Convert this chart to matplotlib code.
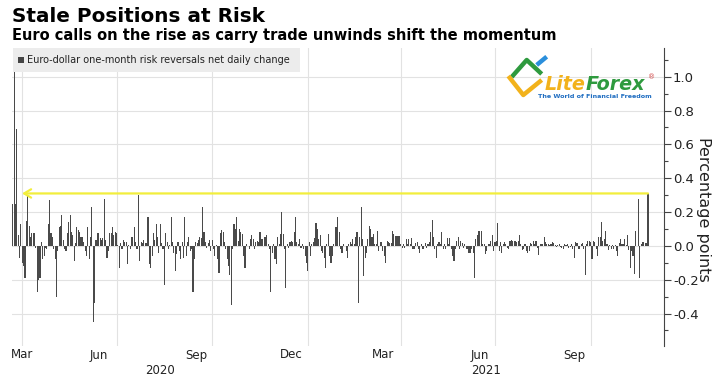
import matplotlib
matplotlib.use("Agg")
import matplotlib.pyplot as plt
from matplotlib.patches import Rectangle
import numpy as np

# daily change of EUR/USD 1M risk reversals (left to right)
chg_part1 = [0.25, 1.03, 0.25, 0.69, 0.065, -0.07, 0.13, -0.10, -0.12, -0.19, 0.15, 0.30, 0.12, 0.055,
             0.075, 0.075, 0.075, -0.01, -0.27, -0.20, -0.19, 0.025, -0.08, -0.06, -0.01, -0.02, 0.13,
             0.27, 0.075, 0.055, -0.02, -0.08, -0.30, -0.03, 0.11, 0.12, 0.18, 0.035, -0.02, -0.03,
             0.075, 0.14, 0.18, 0.085, 0.065, -0.09, 0.015, 0.11, 0.095, 0.085, 0.055, 0.055, 0.025,
             -0.03, -0.06, 0.11, -0.08, 0.055, 0.23, -0.45, -0.34, 0.035, 0.075, 0.075, 0.045, 0.035,
             0.045, 0.28, 0.035, -0.07, -0.03, 0.075, 0.075, 0.11, 0.065, 0.085, 0.075, 0.005, -0.13,
             0.015, -0.02, 0.035, 0.025, 0.025, -0.11, 0.005, -0.02, 0.055, 0.055, 0.11, 0.025, -0.02,
             0.30, -0.09, 0.025, 0.015, 0.035, 0.015, 0.015, 0.17, -0.11, -0.13, -0.06, 0.075, 0.035,
             0.13, 0.055, -0.04, 0.13, 0.015, -0.02, -0.23, 0.075, 0.025, -0.02, 0.005, 0.17, 0.025,
             -0.04, -0.15, -0.05, 0.025, -0.03, -0.08, 0.025, -0.07, 0.17, -0.06, 0.025, 0.055, -0.03,
             -0.02, -0.27, -0.08, 0.025, 0.015, 0.035, 0.055, 0.045, 0.23, 0.085, 0.025, -0.01, 0.015,
             0.035, -0.03, 0.035, -0.02, -0.06, 0.005, -0.08, -0.16, 0.075, 0.095, 0.085, 0.025, -0.02,
             -0.08, -0.12, -0.17, -0.35]
chg_part2 = [-0.02, 0.13, 0.10, 0.17, 0.03, 0.10, 0.08, 0.07, -0.06, -0.13, 0.01, 0.0, -0.02, 0.04,
             0.065, 0.04, -0.02, 0.02, 0.03, 0.02, 0.08, 0.04, 0.04, 0.05, 0.055, 0.065, 0.01, -0.02,
             -0.27, -0.04, 0.01, -0.08, -0.11, 0.05, 0.01, 0.07, 0.20, 0.07, -0.02, -0.25, 0.01, -0.01,
             0.02, 0.03, 0.02, 0.08, 0.17, 0.02, 0.01, 0.04, -0.01, 0.01, -0.02, -0.06, -0.10, -0.15,
             0.02, -0.06, 0.01, 0.025, 0.045, 0.135, 0.10, 0.04, 0.065, -0.03, -0.04, -0.07, -0.13,
             0.01, 0.07, -0.06, -0.10, -0.06, 0.01, 0.11, 0.11, 0.17, 0.08, -0.02, -0.04, 0.01, 0.0,
             -0.03, -0.07, 0.01, 0.02, 0.01, 0.04, 0.01, 0.05, 0.085, -0.34, 0.05, 0.23, 0.04, -0.18,
             -0.07, -0.04, 0.04, 0.12, 0.10, 0.05, 0.07, 0.01, 0.01, 0.09, -0.03, 0.025, 0.02, -0.03,
             -0.06, -0.10, 0.03, 0.025, 0.015, 0.015, 0.09, 0.07, 0.06, 0.06, 0.06, 0.06, 0.01, -0.01,
             0.01, -0.015, 0.04, 0.01, 0.04, 0.01, 0.045, -0.02, -0.02, 0.015, 0.02, -0.02, -0.04, 0.01,
             -0.02, -0.02, 0.015, -0.01, 0.01, 0.02, 0.085, 0.155, 0.05, -0.02, -0.07, 0.01, 0.02, 0.01,
             0.085, -0.02, 0.01, -0.02, 0.045, 0.01, 0.045, -0.02, -0.06, -0.09, -0.02, 0.03, 0.055,
             -0.02, 0.03, 0.015, -0.01, 0.01, -0.02, -0.02, -0.04, -0.04, -0.02, -0.04, -0.19]
chg_part3 = [0.04, 0.065, 0.09, 0.09, 0.09, 0.01, 0.01, -0.05, -0.03, 0.01, 0.01, 0.03, 0.065, -0.03,
             0.02, 0.03, 0.135, -0.03, 0.02, -0.045, 0.01, 0.02, 0.01, -0.01, -0.02, 0.03, 0.035, 0.03,
             0.03, 0.03, 0.025, 0.03, 0.065, 0.01, -0.025, -0.02, 0.01, -0.03, -0.045, -0.03, 0.015,
             0.01, 0.03, 0.01, 0.03, -0.01, -0.055, 0.01, 0.01, 0.01, 0.05, 0.02, 0.01, 0.01, 0.005,
             0.01, 0.02, 0.015, 0.005, -0.005, 0.005, 0.01, -0.005, -0.01, -0.02, 0.01, 0.005, 0.01,
             -0.01, -0.005, 0.01, -0.02, -0.07, 0.02, 0.015, -0.02, -0.02, 0.01, 0.015, -0.02, -0.17,
             0.01, 0.03, 0.03, 0.02, -0.08, 0.03, 0.02, -0.02, -0.06, 0.05, 0.05, 0.14, 0.03, 0.04,
             0.09, 0.01, -0.025, 0.005, -0.02, 0.005, -0.02, 0.005, -0.03, -0.06, 0.015, 0.04, 0.01,
             0.01, 0.04, 0.005, 0.065, -0.025, -0.13, -0.03, -0.06, -0.165, 0.09, 0.0, 0.28, -0.19,
             0.01, 0.02, 0.02, 0.015, 0.015, 0.31]

month_labels = ["Mar", "Jun", "Sep", "Dec", "Mar", "Jun", "Sep"]
year_labels = ["2020", "2021"]
y_ticks = [-0.4, -0.2, 0.0, 0.2, 0.4, 0.6, 0.8, 1.0]
arrow_level = 0.31

title = "Stale Positions at Risk"
subtitle = "Euro calls on the rise as carry trade unwinds shift the momentum"
legend_label = "Euro-dollar one-month risk reversals net daily change"

values = np.array(chg_part1 + chg_part2 + chg_part3)
n = len(values)

# ---- layout (pixels) ----
W, H = 720, 378
ax_l, ax_r, ax_t, ax_b = 12, 664, 48, 346
first_px, last_px = 12.7, 648
grid_px = [22, 117, 212, 308, 401, 495, 591]
month_px = [22, 99, 196, 291, 383, 480, 574]
year_px = [160, 486]

fig = plt.figure(figsize=(W / 100, H / 100), dpi=100)
fig.patch.set_facecolor("white")

ax = fig.add_axes([ax_l / W, 1 - ax_b / H, (ax_r - ax_l) / W, (ax_b - ax_t) / H])
step = (last_px - first_px) / (n - 1)


def px2i(p):
    return (p - first_px) / step


ax.set_xlim(px2i(ax_l), px2i(ax_r))
ax.set_ylim(-0.592, 1.17)

for y in y_ticks:
    ax.axhline(y, color="#e2e2e2", lw=0.8, zorder=0)
for p in grid_px:
    ax.axvline(px2i(p), color="#e2e2e2", lw=0.8, zorder=0)

ax.bar(np.arange(n), values, width=0.8, color="#4a4a4a", linewidth=0, zorder=2)

ax.annotate("", xy=(px2i(22), arrow_level), xytext=(n - 1, arrow_level),
            arrowprops=dict(arrowstyle="->,head_length=0.5,head_width=0.3",
                            color="#f2ee3c", lw=1.6, shrinkA=0, shrinkB=0),
            zorder=3)

ax.yaxis.tick_right()
ax.set_yticks(y_ticks)
ax.set_yticklabels([f"{v:.1f}" for v in y_ticks])
ax.set_yticks(np.arange(-0.5, 1.15, 0.1), minor=True)
ax.tick_params(axis="y", which="major", length=5, width=0.8, color="#444444",
               labelcolor="#222222", labelsize=9.5, pad=1.5)
ax.tick_params(axis="y", which="minor", length=3, width=0.8, color="#444444")
ax.set_xticks([])
for s in ["left", "top", "bottom"]:
    ax.spines[s].set_visible(False)
ax.spines["right"].set_color("#444444")
ax.spines["right"].set_linewidth(0.8)
ax.set_facecolor("none")

# ---- overlay in pixel coordinates: titles, legend, labels, logo ----
ov = fig.add_axes([0, 0, 1, 1])
ov.set_xlim(0, W)
ov.set_ylim(H, 0)
ov.axis("off")
ov.patch.set_alpha(0)

ov.text(12, 22, title, fontsize=14.4, fontweight="bold", color="#000000", va="baseline")
ov.text(12, 40, subtitle, fontsize=10.5, fontweight="bold", color="#000000", va="baseline")

ov.add_patch(Rectangle((13, 48), 287, 24, facecolor="#ececec", edgecolor="none"))
ov.add_patch(Rectangle((18, 57), 6, 6, facecolor="#444444", edgecolor="none"))
ov.text(27, 60, legend_label, fontsize=7.05, color="#222222", va="center")

for lab, p in zip(month_labels, month_px):
    ov.text(p, 355, lab, fontsize=8.5, color="#222222", ha="center", va="center")
for lab, p in zip(year_labels, year_px):
    ov.text(p, 370, lab, fontsize=8.5, color="#222222", ha="center", va="center")

ov.text(703, 209, "Percentage points", fontsize=11.5, color="#222222", rotation=270,
        ha="center", va="center")

# LiteForex logo
ov.plot([511.7, 526.7, 541.7], [77, 60, 74], color="#2e9a3e", lw=3.2, solid_capstyle="butt")
ov.plot([536.7, 546.7], [65, 56.7], color="#2a8fdc", lw=3.2, solid_capstyle="butt")
ov.plot([508.3, 523.3, 541.7], [76, 95, 80], color="#f2b21b", lw=3.2, solid_capstyle="butt")
t1 = ov.text(545, 90, "Lite", fontsize=13.8, fontweight="bold", style="italic",
             color="#f2b21b", va="baseline")
ov.annotate("Forex", xy=(1, 0), xycoords=t1, va="bottom", fontsize=13.8,
            fontweight="bold", style="italic", color="#2e9a3e")
ov.text(652, 77, "\u00ae", fontsize=5, color="#d04040", ha="center", va="center")
ov.text(595, 97, "The World of Financial Freedom", fontsize=4.6, fontweight="bold",
        color="#1f6dc1", ha="center", va="center")

fig.savefig("out.png", dpi=100)
